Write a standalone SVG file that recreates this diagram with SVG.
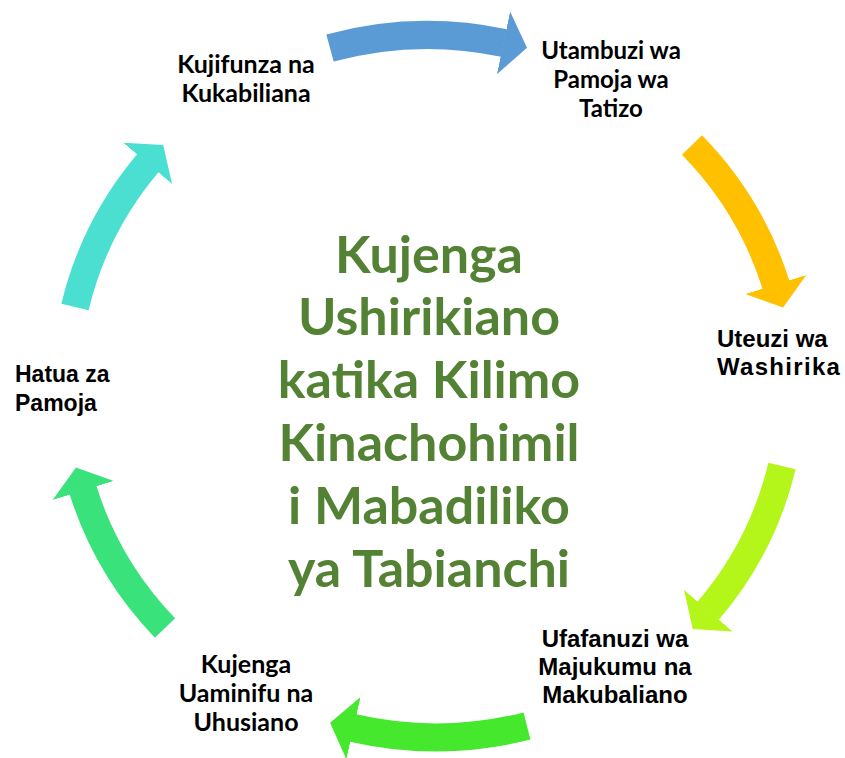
<svg xmlns="http://www.w3.org/2000/svg" width="845" height="758" viewBox="0 0 845 758">
<style>
.lbl{font-family:Lato,"Open Sans",sans-serif;font-weight:700;font-size:25px;fill:#000;text-anchor:middle}
.lbla{font-family:"Liberation Sans",Arial,sans-serif;font-weight:700;font-size:24px;fill:#000}
.title{font-family:Lato,"Open Sans",sans-serif;font-weight:700;font-size:52px;fill:#548235;text-anchor:middle}
.arc{fill:none;stroke-width:28;stroke-linecap:butt}
</style>
<defs>
<marker id="hBlue" markerUnits="userSpaceOnUse" orient="auto" markerWidth="30" markerHeight="70" viewBox="0 -35 30 70" refX="0.5" refY="0"><path d="M0,-32 L24,0 L0,32 Z" fill="#5b9bd5"/></marker>
<marker id="hYellow" markerUnits="userSpaceOnUse" orient="auto" markerWidth="30" markerHeight="70" viewBox="0 -35 30 70" refX="0.5" refY="0"><path d="M0,-32 L24,0 L0,32 Z" fill="#ffc000"/></marker>
<marker id="hLime" markerUnits="userSpaceOnUse" orient="auto" markerWidth="30" markerHeight="70" viewBox="0 -35 30 70" refX="0.5" refY="0"><path d="M0,-32 L24,0 L0,32 Z" fill="#b4f51a"/></marker>
<marker id="hGreen" markerUnits="userSpaceOnUse" orient="auto" markerWidth="30" markerHeight="70" viewBox="0 -35 30 70" refX="0.5" refY="0"><path d="M0,-32 L24,0 L0,32 Z" fill="#45e82d"/></marker>
<marker id="hMint" markerUnits="userSpaceOnUse" orient="auto" markerWidth="30" markerHeight="70" viewBox="0 -35 30 70" refX="0.5" refY="0"><path d="M0,-32 L24,0 L0,32 Z" fill="#3ae27c"/></marker>
<marker id="hTeal" markerUnits="userSpaceOnUse" orient="auto" markerWidth="30" markerHeight="70" viewBox="0 -35 30 70" refX="0.5" refY="0"><path d="M0,-32 L24,0 L0,32 Z" fill="#4adfd1"/></marker>
</defs>
<rect width="845" height="758" fill="#fff"/>
<g id="connectors">
<path class="arc" stroke="#5b9bd5" marker-end="url(#hBlue)" d="M330,48 A362,352 0 0 1 504,43"/>
<path class="arc" stroke="#ffc000" marker-end="url(#hYellow)" d="M692,145 A362,352 0 0 1 776,285"/>
<path class="arc" stroke="#b4f51a" marker-end="url(#hLime)" d="M782,466 A362,352 0 0 1 708,611"/>
<path class="arc" stroke="#45e82d" marker-end="url(#hGreen)" d="M527,726 A362,352 0 0 1 353,728"/>
<path class="arc" stroke="#3ae27c" marker-end="url(#hMint)" d="M165,628 A362,352 0 0 1 83,490"/>
<path class="arc" stroke="#4adfd1" marker-end="url(#hTeal)" d="M75,307 A362,352 0 0 1 148,163"/>
</g>
<g id="center">
<text class="title" x="429" y="273">Kujenga</text>
<text class="title" x="429" y="335">Ushirikiano</text>
<text class="title" x="429" y="398">katika Kilimo</text>
<text class="title" x="429" y="461">Kinachohimil</text>
<text class="title" x="429" y="524">i Mabadiliko</text>
<text class="title" x="429" y="587">ya Tabianchi</text>
</g>
<g id="node-kujifunza">
<text class="lbl" x="246" y="73">Kujifunza na</text>
<text class="lbl" x="246" y="102">Kukabiliana</text>
</g>
<g id="node-utambuzi">
<text class="lbl" x="611" y="59" style="font-size:24px">Utambuzi wa</text>
<text class="lbl" x="611" y="88" style="font-size:24px">Pamoja wa</text>
<text class="lbl" x="611" y="117" style="font-size:24px">Tatizo</text>
</g>
<g id="node-uteuzi">
<text class="lbla" x="717" y="347">Uteuzi wa</text>
<text class="lbla" x="717" y="375" letter-spacing="1.3">Washirika</text>
</g>
<g id="node-ufafanuzi">
<text class="lbla" x="615" y="647" text-anchor="middle">Ufafanuzi wa</text>
<text class="lbla" x="615" y="675" text-anchor="middle">Majukumu na</text>
<text class="lbla" x="615" y="703" text-anchor="middle">Makubaliano</text>
</g>
<g id="node-kujenga">
<text class="lbl" x="246" y="673">Kujenga</text>
<text class="lbl" x="246" y="702">Uaminifu na</text>
<text class="lbl" x="246" y="731">Uhusiano</text>
</g>
<g id="node-hatua">
<text class="lbla" x="15" y="382" style="font-size:23px">Hatua za</text>
<text class="lbla" x="15" y="411" style="font-size:23px">Pamoja</text>
</g>
</svg>
